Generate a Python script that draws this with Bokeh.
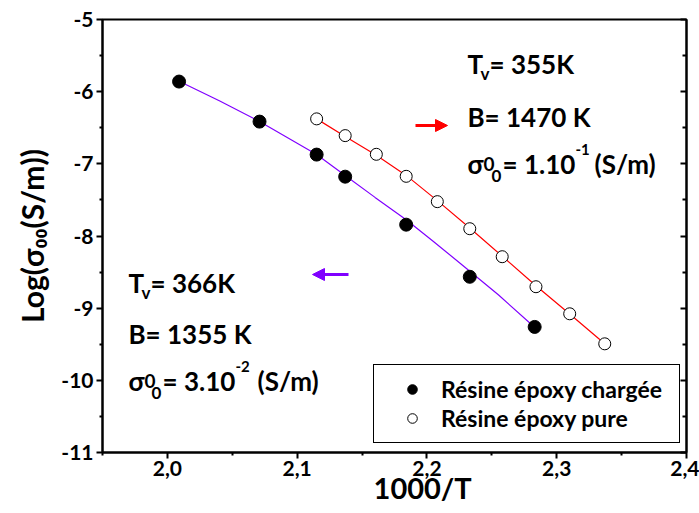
import math
from bokeh.plotting import figure
from bokeh.models import (Range1d, LinearAxis, FixedTicker, CustomJSTickFormatter,
                          Label, Legend, LegendItem, Arrow, NormalHead)
from bokeh.embed import file_html
from bokeh.resources import INLINE

# ---------------- data ----------------
charged_x = [2.009, 2.071, 2.115, 2.137, 2.184, 2.233, 2.283]
charged_y = [-5.86, -6.415, -6.872, -7.178, -7.843, -8.565, -9.26]
pure_x = [2.115, 2.137, 2.161, 2.184, 2.208, 2.233, 2.258, 2.284, 2.310, 2.337]
pure_y = [-6.377, -6.609, -6.868, -7.173, -7.524, -7.899, -8.287, -8.703, -9.078, -9.494]

# fitted curves
fit_charged_x = [2.009, 2.040, 2.071, 2.115, 2.137, 2.160, 2.184, 2.205, 2.226, 2.255, 2.281]
fit_charged_y = [-5.855, -6.125, -6.413, -6.870, -7.162, -7.465, -7.775, -8.075, -8.385, -8.815, -9.233]
fit_pure_x = [2.115, 2.137, 2.161, 2.184, 2.208, 2.233, 2.258, 2.284, 2.310, 2.337]
fit_pure_y = [-6.377, -6.620, -6.880, -7.160, -7.510, -7.890, -8.280, -8.690, -9.080, -9.494]

x_ticks = [2.0, 2.1, 2.2, 2.3, 2.4]
x_minor = [1.95, 2.05, 2.15, 2.25, 2.35]
y_ticks = [-11, -10, -9, -8, -7, -6, -5]
y_minor = [-10.5, -9.5, -8.5, -7.5, -6.5, -5.5]

legend_labels = ["Résine époxy chargée", "Résine époxy pure"]
x_title = "1000/T"
y_title = "Log(σ₀₀(S/m))"

# ---------------- layout ----------------
W, H = 699, 513
BL, BR, BT, BB = 102, 13, 19, 61
X0, X1, Y0, Y1 = 1.95, 2.4, -11, -5
FW = W - BL - BR
FH = H - BT - BB

def dx(px):  # page pixel -> data x
    return X0 + (px - BL) * (X1 - X0) / FW

def dy(py):  # page pixel -> data y
    return Y1 - (py - BT) * (Y1 - Y0) / FH

FONT = "Lato"
PURPLE = "#8000ff"
RED = "#ff0000"
NB = "\u00a0"

p = figure(width=W, height=H, output_backend="svg", toolbar_location=None,
           x_range=Range1d(X0, X1), y_range=Range1d(Y0, Y1),
           min_border_left=BL, min_border_right=BR, min_border_top=BT, min_border_bottom=BB,
           background_fill_color="white", border_fill_color="white")
p.grid.visible = False
p.outline_line_color = "black"
p.outline_line_width = 2

xa = p.xaxis[0]
xa.ticker = FixedTicker(ticks=x_ticks, minor_ticks=x_minor)
xa.formatter = CustomJSTickFormatter(code="return tick.toFixed(1).replace('.', ',');")
ya = p.yaxis[0]
ya.ticker = FixedTicker(ticks=y_ticks, minor_ticks=y_minor)
ya.formatter = CustomJSTickFormatter(code="return tick.toFixed(0);")
for ax in (xa, ya):
    ax.axis_line_width = 2
    ax.major_tick_line_width = 2
    ax.minor_tick_line_width = 2
    ax.major_tick_out = 6
    ax.major_tick_in = 0
    ax.minor_tick_out = 3
    ax.minor_tick_in = 0
    ax.major_label_text_font = FONT
    ax.major_label_text_font_style = "bold"
    ax.major_label_text_font_size = "21px"
    ax.major_label_text_color = "black"
    ax.axis_label_text_font = FONT
    ax.axis_label_text_font_style = "bold"
    ax.axis_label_text_color = "black"
xa.major_label_standoff = 2
ya.major_label_standoff = 3
xa.axis_label = NB * 8 + x_title
xa.axis_label_text_font_size = "29px"
xa.axis_label_standoff = -9
ya.axis_label = y_title
ya.axis_label_text_font_size = "30px"
ya.axis_label_standoff = 8

ra = LinearAxis(ticker=FixedTicker(ticks=y_ticks, minor_ticks=y_minor),
                formatter=CustomJSTickFormatter(code="return '';"),
                major_label_standoff=0,
                axis_line_width=2, major_tick_line_width=2, minor_tick_line_width=2,
                major_tick_in=6, major_tick_out=0, minor_tick_in=4, minor_tick_out=0)
p.add_layout(ra, "right")

# fitted curves
p.line(fit_charged_x, fit_charged_y, line_color=PURPLE, line_width=1.2)
p.line(fit_pure_x, fit_pure_y, line_color=RED, line_width=1.2)

# points
r_ch = p.scatter(charged_x, charged_y, size=13, fill_color="black", line_color="black")
r_pu = p.scatter(pure_x, pure_y, size=12, fill_color="white", line_color="black", line_width=1)

legend = Legend(items=[LegendItem(label=legend_labels[0], renderers=[r_ch]),
                       LegendItem(label=legend_labels[1], renderers=[r_pu])],
                location=(271, 9), padding=10, spacing=1, margin=0,
                glyph_width=56, glyph_height=24, label_width=228, label_height=24,
                label_standoff=1, label_text_font=FONT, label_text_font_style="bold",
                label_text_font_size="23px", label_text_color="black",
                border_line_color="black", border_line_width=1, border_line_alpha=1,
                background_fill_alpha=1)
p.add_layout(legend, "center")

def lab(text, px, py, size):
    p.add_layout(Label(x=dx(px), y=dy(py), text=text,
                       text_font=FONT, text_font_style="bold",
                       text_font_size=f"{size}px", text_color="black",
                       text_align="left", text_baseline="alphabetic"))

# annotations, upper right (pure resin)
A = 26
S = 17
lab("T", 467, 63, A)
lab("v", 480, 73, S)
lab("= 355K", 489, 63, A)
lab("B= 1470 K", 467, 116, A)
lab("σ", 467, 163, A)
lab("0", 483, 163, 19)
lab("0", 491, 175, S)
lab("= 1.10", 502, 163, A)
lab("-1", 575, 149, 15)
lab("(S/m)", 594, 163, A)

# annotations, left (charged resin)
lab("T", 128, 282, A)
lab("v", 141, 292, S)
lab("= 366K", 150, 282, A)
lab("B= 1355 K", 128, 333, A)
lab("σ", 128, 380, A)
lab("0", 144, 380, 19)
lab("0", 151, 392, S)
lab("= 3.10", 162, 380, A)
lab("-2", 235, 366, 15)
lab("(S/m)", 257, 380, A)

# arrows
p.add_layout(Arrow(x_start=dx(415), y_start=dy(125), x_end=dx(447), y_end=dy(125),
                   line_color=RED, line_width=3,
                   end=NormalHead(size=12, fill_color=RED, line_color=RED)))
p.add_layout(Arrow(x_start=dx(348), y_start=dy(274), x_end=dx(312), y_end=dy(274),
                   line_color=PURPLE, line_width=3,
                   end=NormalHead(size=12, fill_color=PURPLE, line_color=PURPLE)))

open("out.html", "w").write(file_html(p, INLINE))
